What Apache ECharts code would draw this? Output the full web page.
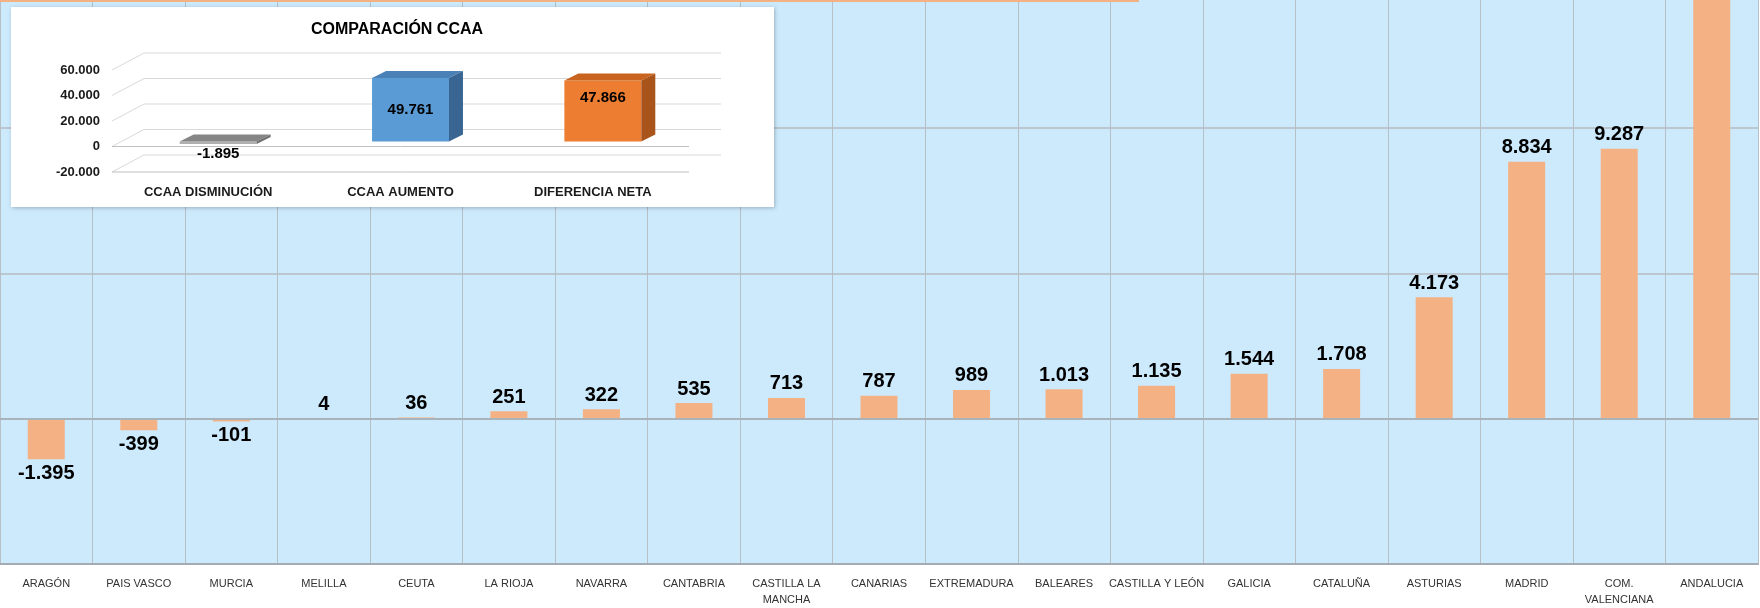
<!DOCTYPE html>
<html>
<head>
<meta charset="utf-8">
<script src="https://cdn.jsdelivr.net/npm/echarts@6/dist/echarts.min.js"></script>
<style>
  html, body { margin: 0; padding: 0; background: #fff; }
  #main { width: 1760px; height: 608px; }
</style>
</head>
<body>
<div id="main"></div>
<script>
var myChart = echarts.init(document.getElementById('main'));

// main chart
var categories = ['ARAGÓN', 'PAIS VASCO', 'MURCIA', 'MELILLA', 'CEUTA', 'LA RIOJA', 'NAVARRA',
    'CANTABRIA', 'CASTILLA LA\nMANCHA', 'CANARIAS', 'EXTREMADURA', 'BALEARES', 'CASTILLA Y LEÓN',
    'GALICIA', 'CATALUÑA', 'ASTURIAS', 'MADRID', 'COM.\nVALENCIANA', 'ANDALUCIA'];
var values = [-1395, -399, -101, 4, 36, 251, 322, 535, 713, 787, 989, 1013, 1135, 1544, 1708, 4173, 8834, 9287, 18430];

// inset chart
var insetCategories = ['CCAA DISMINUCIÓN', 'CCAA AUMENTO', 'DIFERENCIA NETA'];
var insetValues = [-1895, 49761, 47866];
var insetTicks = [-20000, 0, 20000, 40000, 60000];

var FONT = '"Liberation Sans", Arial, sans-serif';

// spanish thousands separator
var fmt = function(v) {
    var s = String(Math.abs(v)).replace(/\B(?=(\d{3})+(?!\d))/g, '.');
    return (v < 0 ? '-' : '') + s;
};

// colors for the 3d bars: front, top, side
var insetColors = [
    ['#b0b0b0', '#858585', '#6f6f6f'],
    ['#5b9bd5', '#4a82b8', '#386591'],
    ['#ed7d31', '#c8641f', '#a9541b']
];
var insetLabelPos = ['below', 'middle', 'top'];

// wall depth offset and bar depth
var BX = 32, BY = -17;
var FX = 10, FY = -5, DX = 14, DY = -7;

function renderGridLines(params, api) {
    var cs = params.coordSys;
    var v = api.value(1);
    var y = api.coord([0, v])[1];
    var x0 = cs.x, x1 = cs.x + cs.width;
    var st = { stroke: '#d9d9d9', lineWidth: 1 };
    var kids = [
        { type: 'line', shape: { x1: x0 + BX, y1: y + BY, x2: x1 + BX, y2: y + BY }, style: st },
        { type: 'line', shape: { x1: x0, y1: y, x2: x0 + BX, y2: y + BY }, style: st }
    ];
    if (v <= 0) {
        kids.push({ type: 'line', shape: { x1: x0, y1: y, x2: x1, y2: y }, style: { stroke: '#bfbfbf', lineWidth: 1 } });
    }
    return { type: 'group', children: kids };
}

function renderBar3d(params, api) {
    var i = api.value(0), v = api.value(1);
    var top = api.coord([i, Math.max(v, 0)]);
    var bot = api.coord([i, Math.min(v, 0)]);
    var w = api.size([1, 0])[0] * 0.4;
    var xl = top[0] - w / 2 + FX, xr = xl + w;
    var yt = top[1] + FY, yb = Math.max(bot[1] + FY, yt + 1);
    var c = insetColors[i];
    var ly, pos = insetLabelPos[i];
    if (pos === 'middle') ly = (yt + yb) / 2;
    else if (pos === 'top') ly = yt + 17;
    else ly = yb + 10;
    return {
        type: 'group',
        children: [
            { type: 'rect', shape: { x: xl, y: yt, width: w, height: yb - yt }, style: { fill: c[0] } },
            { type: 'polygon', shape: { points: [[xl, yt], [xr, yt], [xr + DX, yt + DY], [xl + DX, yt + DY]] }, style: { fill: c[1] } },
            { type: 'polygon', shape: { points: [[xr, yt], [xr + DX, yt + DY], [xr + DX, yb + DY], [xr, yb]] }, style: { fill: c[2] } },
            { type: 'text', style: { text: fmt(v), x: (xl + xr) / 2, y: ly, align: 'center', verticalAlign: 'middle',
                font: 'bold 15px ' + FONT, fill: '#000' } }
        ]
    };
}

option = {
    animation: false,
    backgroundColor: '#ffffff',
    title: [{
        text: 'COMPARACIÓN CCAA',
        left: 392,
        top: 17,
        textAlign: 'center',
        zlevel: 1,
        z: 6,
        textStyle: { fontFamily: FONT, fontSize: 16, fontWeight: 'bold', color: '#000' }
    }],
    graphic: [
        { type: 'rect', silent: true, shape: { x: 0, y: 0, width: 1139, height: 2 }, style: { fill: '#f4b183' }, z: 10 },
        { type: 'rect', silent: true, zlevel: 1, z: 0, shape: { x: 11, y: 7, width: 763, height: 200 },
            style: { fill: '#ffffff', shadowBlur: 4, shadowOffsetX: 1, shadowOffsetY: 1, shadowColor: 'rgba(0,0,0,0.25)' } }
    ],
    grid: [
        { left: -6.5, right: 2, top: 0, bottom: 43, show: true, backgroundColor: '#cdeafd', borderWidth: 0 },
        { left: 112, top: 70, width: 577, height: 102 }
    ],
    xAxis: [{
        type: 'category',
        gridIndex: 0,
        data: categories,
        axisLine: { onZero: false, lineStyle: { color: '#a3abb3', width: 2 } },
        axisTick: { show: false },
        axisLabel: { interval: 0, fontFamily: FONT, fontSize: 11, lineHeight: 16, color: '#333', margin: 12 },
        splitLine: { show: true, interval: 0, lineStyle: { color: '#b6bec6', width: 1 } }
    }, {
        type: 'category',
        gridIndex: 1,
        data: insetCategories,
        zlevel: 1,
        z: 2,
        axisLine: { show: false },
        axisTick: { show: false },
        axisLabel: { interval: 0, fontFamily: FONT, fontSize: 13, fontWeight: 'bold', color: '#1a1a1a', margin: 14 },
        splitLine: { show: false }
    }],
    yAxis: [{
        type: 'value',
        gridIndex: 0,
        min: -5000,
        max: 14400,
        interval: 5000,
        axisLabel: { show: false },
        axisLine: { show: false },
        axisTick: { show: false },
        splitLine: { showMaxLine: false, lineStyle: { color: '#bcc6cf', width: 2 } }
    }, {
        type: 'value',
        gridIndex: 1,
        min: -20000,
        max: 60000,
        interval: 20000,
        zlevel: 1,
        z: 2,
        axisLabel: { formatter: fmt, fontFamily: FONT, fontSize: 13, fontWeight: 'bold', color: '#1a1a1a', margin: 12 },
        axisLine: { show: false },
        axisTick: { show: false },
        splitLine: { show: false }
    }],
    series: [{
        type: 'bar',
        xAxisIndex: 0,
        yAxisIndex: 0,
        barWidth: '40%',
        data: values.map(function(v) {
            return { value: v, label: { position: v < 0 ? 'bottom' : 'top' } };
        }),
        itemStyle: { color: '#f4b183' },
        label: {
            show: true,
            distance: 4,
            formatter: function(p) { return fmt(p.value); },
            fontFamily: FONT,
            fontSize: 20,
            fontWeight: 'bold',
            color: '#000'
        },
        markLine: {
            silent: true,
            symbol: 'none',
            label: { show: false },
            lineStyle: { color: '#a9b3bc', width: 2, type: 'solid' },
            data: [{ yAxis: 0 }]
        }
    }, {
        type: 'custom',
        xAxisIndex: 1,
        yAxisIndex: 1,
        zlevel: 1,
        z: 1,
        silent: true,
        data: insetTicks.map(function(v) { return [0, v]; }),
        renderItem: renderGridLines
    }, {
        type: 'custom',
        xAxisIndex: 1,
        yAxisIndex: 1,
        zlevel: 1,
        z: 3,
        silent: true,
        data: insetValues.map(function(v, i) { return [i, v]; }),
        renderItem: renderBar3d
    }]
};

myChart.setOption(option);
</script>
</body>
</html>
